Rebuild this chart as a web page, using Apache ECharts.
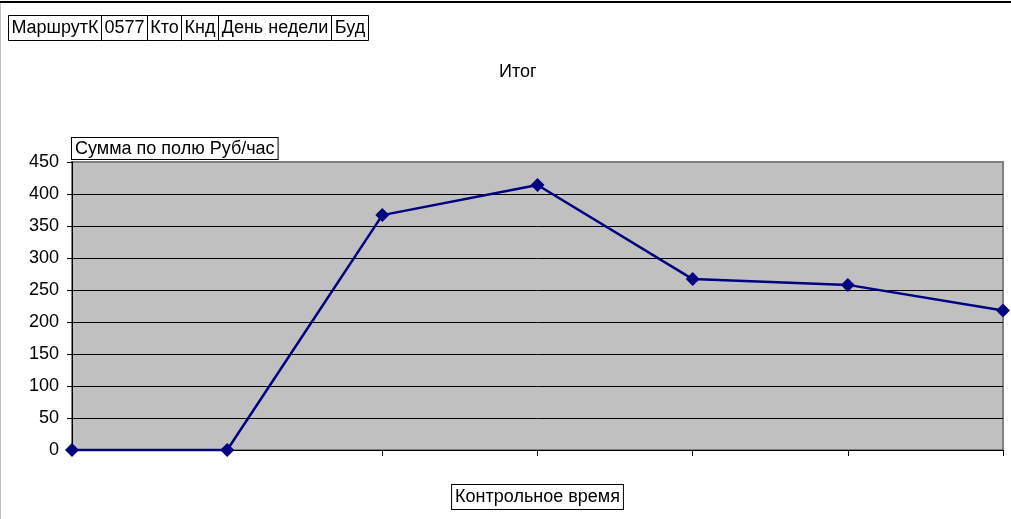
<!DOCTYPE html>
<html>
<head>
<meta charset="utf-8">
<script src="https://cdn.jsdelivr.net/npm/echarts@6/dist/echarts.min.js"></script>
<style>
html,body{margin:0;padding:0;background:#fff;}
#chart{width:1011px;height:519px;}
</style>
</head>
<body>
<div id="chart"></div>
<script>
var categories = ['1', '2', '3', '4', '5', '6', '7'];
var values = [0, 0, 367, 414, 267, 258, 218];
var yTicks = { min: 0, max: 450, interval: 50 };
var filterLabels = ['МаршрутК', '0577', 'Кто', 'Кнд', 'День недели', 'Буд'];
var filterEdges = [8, 101, 147, 181, 218, 331, 368];

var FONT = '"Liberation Sans", Arial, sans-serif';
var FS = 18;
var chart = echarts.init(document.getElementById('chart'));

var graphics = [
  { type: 'line', shape: { x1: 0, y1: 2, x2: 1011, y2: 2 }, style: { stroke: '#000', lineWidth: 2 } },
  { type: 'line', shape: { x1: 0.5, y1: 3, x2: 0.5, y2: 519 }, style: { stroke: '#c0c0c0', lineWidth: 1 } }
];
filterLabels.forEach(function (t, i) {
  var x0 = filterEdges[i], x1 = filterEdges[i + 1];
  graphics.push({
    type: 'rect',
    shape: { x: x0 + 0.5, y: 15.5, width: x1 - x0, height: 25 },
    style: { fill: '#fff', stroke: '#000', lineWidth: 1 }
  });
  graphics.push({
    type: 'text',
    x: (x0 + x1) / 2 + 0.5, y: 28.5,
    style: { text: t, fill: '#000', font: FS + 'px ' + FONT, textAlign: 'center', textVerticalAlign: 'middle' }
  });
});

var splitColors = [];
for (var v = yTicks.min; v <= yTicks.max; v += yTicks.interval) {
  splitColors.push(v === yTicks.max ? '#808080' : '#000');
}

chart.setOption({
  animation: false,
  backgroundColor: '#fff',
  title: {
    text: 'Итог',
    left: 494, top: 58,
    textStyle: { fontFamily: FONT, fontSize: FS, fontWeight: 'normal', color: '#000' }
  },
  graphic: graphics,
  grid: {
    left: 72, right: 8, top: 162, bottom: 69,
    show: true,
    backgroundColor: '#c0c0c0',
    borderColor: '#808080',
    borderWidth: 2
  },
  xAxis: {
    type: 'category',
    data: categories,
    boundaryGap: false,
    name: 'Контрольное время',
    nameLocation: 'middle',
    nameGap: 35,
    nameTextStyle: {
      fontFamily: FONT, fontSize: FS, color: '#000',
      borderColor: '#000', borderWidth: 1, padding: [3, 3, 3, 3], backgroundColor: '#fff'
    },
    axisLine: { lineStyle: { color: '#000', width: 1 } },
    axisTick: { show: true, length: 6, lineStyle: { color: '#000' } },
    axisLabel: { show: false },
    splitLine: { show: false }
  },
  yAxis: {
    type: 'value',
    min: yTicks.min, max: yTicks.max, interval: yTicks.interval,
    name: 'Сумма по полю Руб/час',
    nameLocation: 'end',
    nameGap: 3,
    nameTextStyle: {
      fontFamily: FONT, fontSize: FS, color: '#000', align: 'left', verticalAlign: 'bottom',
      borderColor: '#000', borderWidth: 1, padding: [2, 3, 1, 3], backgroundColor: '#fff'
    },
    axisLine: { show: true, lineStyle: { color: '#000', width: 1 } },
    axisTick: { show: true, length: 5, lineStyle: { color: '#000' } },
    axisLabel: { fontFamily: FONT, fontSize: FS, color: '#000', margin: 13 },
    splitLine: { show: true, lineStyle: { color: splitColors, width: 1 } }
  },
  series: [{
    type: 'line',
    data: values,
    symbol: 'diamond',
    symbolSize: 14,
    lineStyle: { color: '#000080', width: 2.5 },
    itemStyle: { color: '#000080' },
    clip: false,
    z: 5
  }]
});
</script>
</body>
</html>
